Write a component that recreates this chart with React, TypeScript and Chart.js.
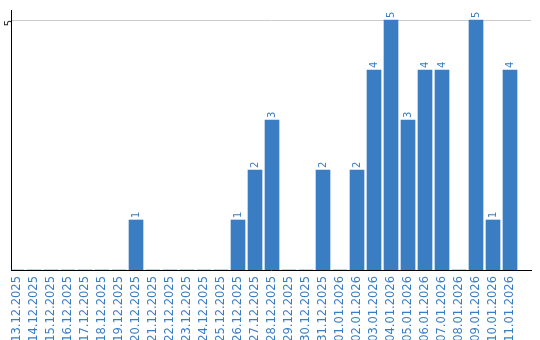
import React, { useEffect, useRef } from "react";
import { Chart, registerables } from "chart.js";

Chart.register(...registerables);

const dateLabels: string[] = [
  "13.12.2025", "14.12.2025", "15.12.2025", "16.12.2025", "17.12.2025",
  "18.12.2025", "19.12.2025", "20.12.2025", "21.12.2025", "22.12.2025",
  "23.12.2025", "24.12.2025", "25.12.2025", "26.12.2025", "27.12.2025",
  "28.12.2025", "29.12.2025", "30.12.2025", "31.12.2025", "01.01.2026",
  "02.01.2026", "03.01.2026", "04.01.2026", "05.01.2026", "06.01.2026",
  "07.01.2026", "08.01.2026", "09.01.2026", "10.01.2026", "11.01.2026",
];

const counts: number[] = [
  0, 0, 0, 0, 0, 0, 0, 1, 0, 0,
  0, 0, 0, 1, 2, 3, 0, 0, 2, 0,
  2, 4, 5, 3, 4, 4, 0, 5, 1, 4,
];

const yTickValues: number[] = [5];

const BLUE = "#3b7dc3";

const valueLabelPlugin = {
  id: "valueLabels",
  afterDatasetsDraw(chart: any) {
    const ctx = chart.ctx;
    const meta = chart.getDatasetMeta(0);
    ctx.save();
    ctx.fillStyle = BLUE;
    ctx.font = "10px 'DejaVu Sans'";
    ctx.textAlign = "left";
    ctx.textBaseline = "middle";
    meta.data.forEach((bar: any, i: number) => {
      const v = counts[i];
      if (!v) return;
      ctx.save();
      ctx.translate(bar.x, bar.y - 2);
      ctx.rotate(-Math.PI / 2);
      ctx.fillText(String(v), 0, 0);
      ctx.restore();
    });
    ctx.restore();
  },
};

export default function App() {
  const ref = useRef<HTMLCanvasElement | null>(null);

  useEffect(() => {
    if (!ref.current) return;
    const chart = new Chart(ref.current, {
      type: "bar",
      data: {
        datasets: [
          {
            data: counts.map((v, i) => ({ x: i, y: v })) as any,
            backgroundColor: BLUE,
            borderWidth: 0,
            barThickness: 14,
          },
        ],
      },
      options: {
        responsive: false,
        animation: false,
        layout: { padding: { top: 10, right: 9, left: 0, bottom: 0 } },
        plugins: {
          legend: { display: false },
          tooltip: { enabled: false },
        },
        scales: {
          x: {
            type: "linear",
            min: -0.353,
            max: 30.235,
            offset: false,
            afterBuildTicks: (axis: any) => {
              axis.ticks = dateLabels.map((_, i) => ({ value: i }));
            },
            afterFit: (axis: any) => {
              axis.height = 70;
            },
            grid: { display: false, drawTicks: false },
            border: { display: true, color: "#000", width: 1 },
            ticks: {
              autoSkip: false,
              minRotation: 90,
              maxRotation: 90,
              padding: 6,
              color: BLUE,
              font: { family: "'DejaVu Sans'", size: 11.5 },
              callback: (value: any) => dateLabels[value] ?? "",
            },
          },
          y: {
            min: 0,
            max: 5.2,
            afterBuildTicks: (axis: any) => {
              axis.ticks = yTickValues.map((v) => ({ value: v }));
            },
            afterFit: (axis: any) => {
              axis.width = 11;
            },
            grid: { color: "#cccccc", lineWidth: 1, drawTicks: false },
            border: { display: true, color: "#000", width: 1 },
            ticks: {
              minRotation: 90,
              maxRotation: 90,
              padding: 2,
              color: "#222",
              font: { family: "'DejaVu Sans'", size: 10 },
            },
          },
        },
      },
      plugins: [valueLabelPlugin],
    });
    return () => chart.destroy();
  }, []);

  return (
    <div
      style={{
        position: "absolute",
        left: 0,
        top: 0,
        width: 540,
        height: 340,
        overflow: "hidden",
        background: "#fff",
      }}
    >
      <canvas ref={ref} width={540} height={340} />
    </div>
  );
}
